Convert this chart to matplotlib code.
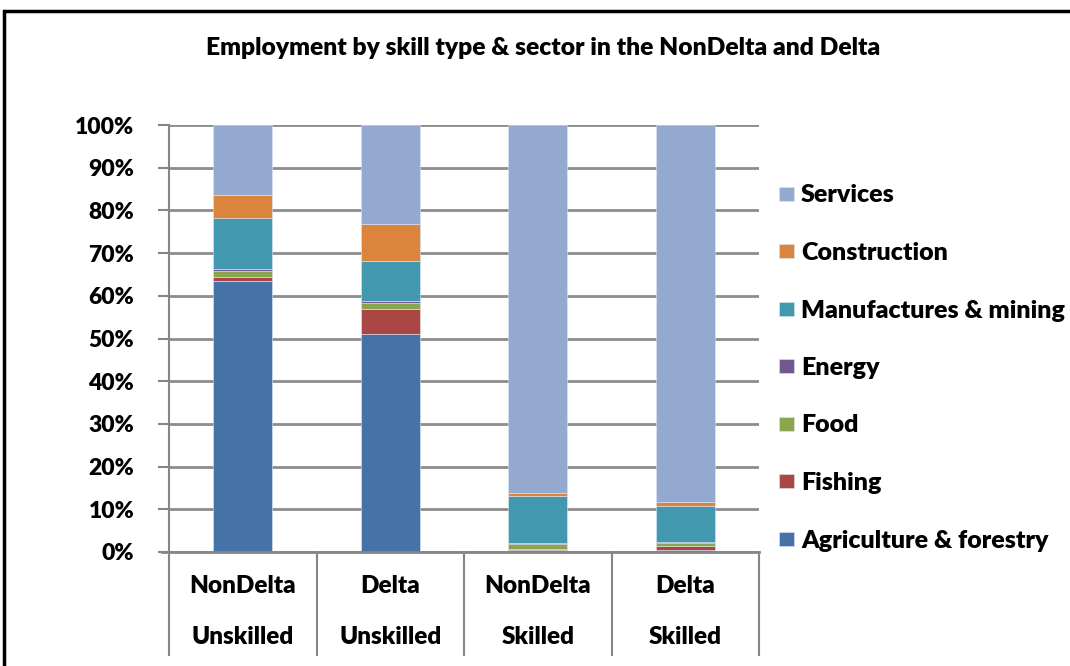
import numpy as np
import matplotlib.pyplot as plt
import matplotlib.transforms as mtransforms
from matplotlib.patches import Rectangle

plt.rcParams['font.family'] = ['Lato', 'DejaVu Sans']
plt.rcParams['font.weight'] = 'heavy'

regions = ['NonDelta', 'Delta', 'NonDelta', 'Delta']
skills = ['Unskilled', 'Unskilled', 'Skilled', 'Skilled']

sectors = ['Agriculture & forestry', 'Fishing', 'Food', 'Energy',
           'Manufactures & mining', 'Construction', 'Services']

# shares in % per column, bottom to top
agriculture = [63.5, 51.1, 0.5, 0.5]
fishing = [1.0, 5.9, 0.1, 0.8]
food = [1.3, 1.3, 1.2, 0.9]
energy = [0.5, 0.4, 0.4, 0.2]
manufactures = [11.9, 9.5, 10.9, 8.3]
construction = [5.5, 8.7, 0.8, 1.1]
services = [16.3, 23.1, 86.1, 88.2]

colors = ['#4572A7', '#AA4643', '#89A54E', '#71588F',
          '#4198AF', '#DB843D', '#93A9CF']

series = [agriculture, fishing, food, energy, manufactures, construction, services]

fig = plt.figure(figsize=(10.7, 6.66), dpi=100)
ax = fig.add_axes([169 / 1070, 1 - 552 / 666, 590 / 1070, 427 / 666])

x = np.arange(len(regions))
bottom = np.zeros(len(regions))
for name, vals, c in zip(sectors, series, colors):
    vals = np.array(vals) / 100
    ax.bar(x, vals, 0.4, bottom=bottom, color=c, label=name,
           edgecolor='#dfe6f0', linewidth=0.4, zorder=3)
    bottom += vals

ax.set_xlim(-0.5, len(regions) - 0.5)
ax.set_ylim(0, 1)
ax.set_yticks(np.arange(0, 1.01, 0.1))
ax.set_yticklabels([f'{int(round(v * 100))}%' for v in np.arange(0, 1.01, 0.1)],
                   fontsize=16.5, fontweight='heavy')
ax.tick_params(axis='y', length=8, width=1.5, color='#868686', pad=17)
ax.set_xticks([])
ax.yaxis.grid(True, color='#8c8c8c', linewidth=2, zorder=0)

for s in ['top', 'right', 'bottom']:
    ax.spines[s].set_visible(False)
ax.spines['left'].set_color('#868686')
ax.spines['left'].set_linewidth(1.5)

# category boxes below the axis
trans = mtransforms.blended_transform_factory(ax.transData, ax.transAxes)
ax.plot([-0.55, len(regions) - 0.5], [0, 0], color='#868686', lw=2,
        transform=trans, clip_on=False, zorder=4)
for xb in np.arange(-0.5, len(regions), 1.0):
    ax.plot([xb, xb], [0, -0.241], color='#868686', lw=1.5,
            transform=trans, clip_on=False)
for xi, r, s in zip(x, regions, skills):
    ax.text(xi, -0.08, r, transform=trans, ha='center', va='center',
            fontsize=17.5, fontweight='heavy')
    ax.text(xi, -0.199, s, transform=trans, ha='center', va='center',
            fontsize=17.5, fontweight='heavy')

fig.text(0.5075, 1 - 48 / 666,
         'Employment by skill type & sector in the NonDelta and Delta',
         ha='center', va='center', fontsize=17.7, fontweight='heavy')

handles, labels = ax.get_legend_handles_labels()
fig.legend(handles[::-1], labels[::-1], loc='upper left',
           bbox_to_anchor=(756 / 1070, 1 - 162 / 666), frameon=False,
           prop={'size': 18, 'weight': 'heavy'}, labelspacing=1.42,
           handlelength=0.6, handleheight=0.5, handletextpad=0.3)

# outer chart border
fig.patches.append(Rectangle((4 / 1070, -0.1), 1.2, 1 - 11 / 666 + 0.1,
                             transform=fig.transFigure, fill=False,
                             edgecolor='black', linewidth=2.5))

fig.savefig('out.png', dpi=100)
